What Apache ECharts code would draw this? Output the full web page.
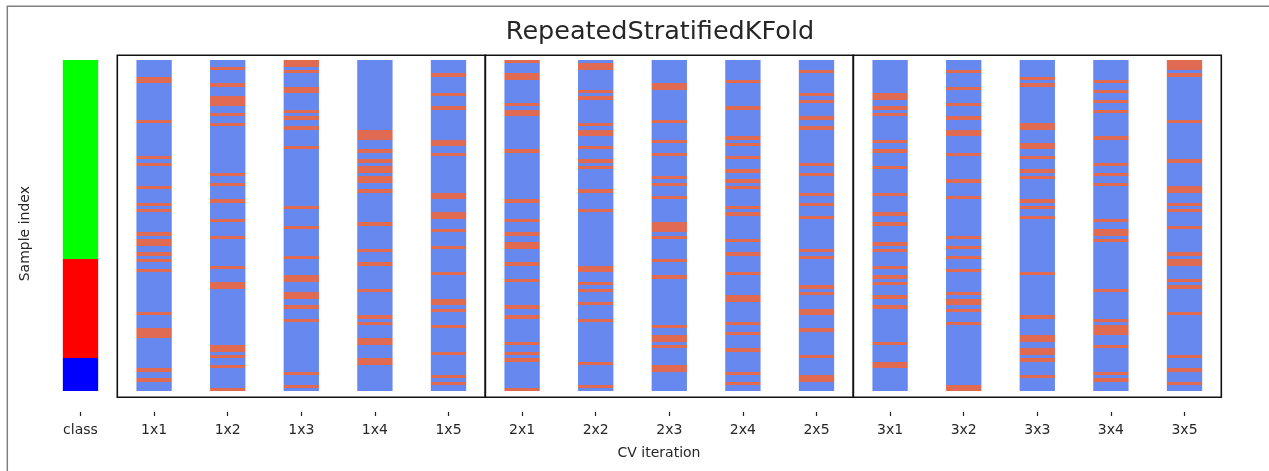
<!DOCTYPE html>
<html>
<head>
<meta charset="utf-8">
<script src="https://cdn.jsdelivr.net/npm/echarts@6/dist/echarts.min.js"></script>
<style>
  html, body { margin: 0; padding: 0; background: #ffffff; }
  #chart { width: 1269px; height: 471px; }
</style>
</head>
<body>
<div id="chart"></div>
<script>
// Column labels: the class column followed by repeat x fold
const categories = ['class', '1x1', '1x2', '1x3', '1x4', '1x5',
  '2x1', '2x2', '2x3', '2x4', '2x5',
  '3x1', '3x2', '3x3', '3x4', '3x5'];

// Number of samples in each class (samples are sorted by class)
const classCounts = [60, 30, 10];

// Test-set sample indices of every split
const test1x1 = [5, 6, 18, 29, 31, 38, 43, 45, 52, 54, 55, 58, 60, 63, 76, 81, 82, 83, 93, 96];
const test1x2 = [2, 7, 11, 12, 13, 16, 19, 34, 37, 42, 48, 53, 62, 67, 68, 86, 87, 89, 92, 99];
const test1x3 = [0, 1, 3, 8, 9, 15, 17, 20, 26, 44, 50, 59, 65, 66, 70, 71, 74, 78, 94, 98];
const test1x4 = [21, 22, 23, 27, 30, 32, 33, 35, 36, 39, 49, 57, 61, 69, 77, 79, 84, 85, 90, 91];
const test1x5 = [4, 10, 14, 24, 25, 28, 40, 41, 46, 47, 51, 56, 64, 72, 73, 75, 80, 88, 95, 97];
const test2x1 = [0, 4, 5, 13, 15, 16, 27, 42, 48, 52, 55, 56, 61, 66, 74, 77, 85, 88, 90, 99];
const test2x2 = [1, 2, 9, 11, 19, 21, 22, 26, 30, 32, 39, 45, 62, 63, 67, 69, 73, 78, 91, 98];
const test2x3 = [7, 8, 18, 24, 28, 35, 37, 41, 49, 50, 51, 53, 60, 65, 80, 83, 84, 86, 92, 93];
const test2x4 = [6, 14, 23, 25, 29, 33, 36, 38, 44, 46, 54, 58, 64, 71, 72, 79, 82, 87, 94, 97];
const test2x5 = [3, 10, 12, 17, 20, 31, 34, 40, 43, 47, 57, 59, 68, 70, 75, 76, 81, 89, 95, 96];
const test3x1 = [10, 11, 14, 16, 24, 27, 32, 40, 46, 49, 55, 57, 62, 65, 67, 71, 74, 85, 91, 92];
const test3x2 = [3, 8, 13, 17, 21, 22, 28, 36, 41, 53, 56, 59, 63, 70, 72, 73, 75, 79, 98, 99];
const test3x3 = [5, 7, 19, 20, 25, 26, 29, 33, 35, 42, 44, 47, 64, 77, 83, 84, 87, 88, 90, 95];
const test3x4 = [6, 9, 12, 15, 23, 31, 34, 37, 48, 51, 52, 54, 69, 78, 80, 81, 82, 86, 94, 96];
const test3x5 = [0, 1, 2, 4, 18, 30, 38, 39, 43, 45, 50, 58, 60, 61, 66, 68, 76, 89, 93, 97];

const splits = [test1x1, test1x2, test1x3, test1x4, test1x5,
  test2x1, test2x2, test2x3, test2x4, test2x5,
  test3x1, test3x2, test3x3, test3x4, test3x5];

// Colours: train, test, then one per class
const palette = ['#6788ee', '#e16a53', '#00ff00', '#ff0000', '#0000ff'];
const FONT = 'DejaVu Sans';
const TEXT = '#262626';

const nSamples = classCounts.reduce((a, b) => a + b, 0);

// Per-sample code for every column: class column gets 2 + class id,
// split columns get 0 (train) or 1 (test)
const columnCodes = [];
{
  const cls = [];
  classCounts.forEach((n, k) => { for (let i = 0; i < n; i++) cls.push(2 + k); });
  columnCodes.push(cls);
}
splits.forEach(test => {
  const set = new Set(test);
  const codes = [];
  for (let i = 0; i < nSamples; i++) codes.push(set.has(i) ? 1 : 0);
  columnCodes.push(codes);
});

// Merge consecutive samples with the same code into runs [col, first, last, code]
const runs = [];
columnCodes.forEach((codes, col) => {
  let start = 0;
  for (let i = 1; i <= codes.length; i++) {
    if (i === codes.length || codes[i] !== codes[start]) {
      runs.push([col, start, i - 1, codes[start]]);
      start = i;
    }
  }
});

// Group the split columns by repeat: [firstCol, lastCol]
const repeatGroups = [];
categories.forEach((name, col) => {
  if (col === 0) return;
  const rep = name.split('x')[0];
  const last = repeatGroups[repeatGroups.length - 1];
  if (last && last.rep === rep) last.to = col;
  else repeatGroups.push({ rep: rep, from: col, to: col });
});

// Vertical extent of the y scale (sample units) and of the repeat frames
const Y_MIN = -1.92;
const Y_MAX = 105.7;
const FRAME_BOTTOM = 101.25;
const BAR_RATIO = 0.48;

const chart = echarts.init(document.getElementById('chart'), null, { renderer: 'canvas' });

chart.setOption({
  animation: false,
  backgroundColor: '#ffffff',
  grid: { left: 43.7, right: 47.7, top: 55.3, bottom: 59 },
  xAxis: {
    type: 'category',
    data: categories,
    boundaryGap: true,
    axisLine: { show: false, onZero: false },
    axisTick: { show: true, alignWithLabel: true, interval: 0, length: 4, lineStyle: { color: '#222222', width: 1.2 } },
    axisLabel: { fontFamily: FONT, fontSize: 14, color: TEXT, margin: 11, interval: 0 },
    splitLine: { show: false }
  },
  yAxis: {
    type: 'value',
    inverse: true,
    min: Y_MIN,
    max: Y_MAX,
    name: 'Sample index',
    nameLocation: 'middle',
    nameGap: 11,
    nameTextStyle: { fontFamily: FONT, fontSize: 14, color: TEXT },
    axisLine: { show: false },
    axisTick: { show: false },
    axisLabel: { show: false },
    splitLine: { show: false }
  },
  graphic: [
    {
      type: 'rect',
      silent: true,
      shape: { x: 7.3, y: 6.3, width: 1400, height: 600 },
      style: { fill: 'none', stroke: '#7f7f7f', lineWidth: 1.5 }
    },
    {
      type: 'text',
      silent: true,
      x: 660, y: 32.5,
      style: {
        text: 'RepeatedStratifiedKFold',
        fontFamily: FONT, fontSize: 25.5, fill: TEXT,
        textAlign: 'center', textVerticalAlign: 'middle'
      }
    },
    {
      type: 'text',
      silent: true,
      x: 659, y: 453.5,
      style: {
        text: 'CV iteration',
        fontFamily: FONT, fontSize: 14, fill: TEXT,
        textAlign: 'center', textVerticalAlign: 'middle'
      }
    }
  ],
  series: [
    {
      type: 'custom',
      name: 'samples',
      data: runs,
      encode: { x: 0, y: [1, 2] },
      renderItem: function (params, api) {
        const col = api.value(0);
        const first = api.value(1);
        const last = api.value(2);
        const code = api.value(3);
        // Snap run edges to whole pixels so neighbouring runs meet without seams
        const top = Math.round(api.coord([col, first - 0.5])[1]);
        const bottom = Math.round(api.coord([col, last + 0.5])[1]);
        const cx = api.coord([col, first])[0];
        const bw = api.size([1, 0])[0] * BAR_RATIO;
        return {
          type: 'rect',
          shape: { x: cx - bw / 2, y: top, width: bw, height: bottom - top },
          style: { fill: palette[code] }
        };
      }
    },
    {
      type: 'custom',
      name: 'repeats',
      data: repeatGroups.map(g => [g.from, g.to]),
      encode: { x: [0, 1] },
      z: 5,
      renderItem: function (params, api) {
        const from = api.value(0);
        const to = api.value(1);
        const bw = api.size([1, 0])[0];
        const a = api.coord([from, Y_MIN]);
        const b = api.coord([to, FRAME_BOTTOM]);
        const x0 = a[0] - bw / 2;
        const x1 = b[0] + bw / 2;
        return {
          type: 'rect',
          shape: { x: x0, y: a[1], width: x1 - x0, height: b[1] - a[1] },
          style: { fill: 'none', stroke: '#111111', lineWidth: 1.6 }
        };
      }
    }
  ]
});
</script>
</body>
</html>
